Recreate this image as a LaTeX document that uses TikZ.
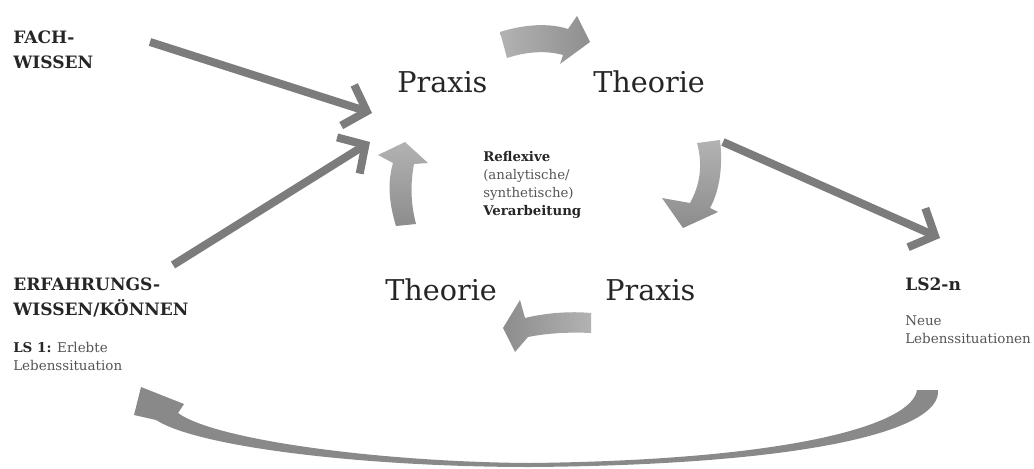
\documentclass[tikz,border=0pt]{standalone}
\usepackage{fontspec}
\setmainfont{DejaVu Serif}
\usetikzlibrary{arrows.meta}
\definecolor{arrgray}{HTML}{7C7C7C}
\definecolor{txtgray}{HTML}{555555}
\begin{document}
\begin{tikzpicture}[x=0.75pt,y=-0.75pt,
  bigtxt/.style={anchor=base west,inner sep=0pt,font=\fontsize{21.5pt}{24pt}\selectfont,text=black!85},
  labtxt/.style={anchor=base west,inner sep=0pt,font=\fontsize{12.8pt}{15pt}\selectfont\bfseries,text=black!85},
  smalltxt/.style={anchor=base west,inner sep=0pt,font=\fontsize{10.1pt}{12pt}\selectfont,text=txtgray},
  midtxt/.style={anchor=base west,inner sep=0pt,font=\fontsize{10pt}{12pt}\selectfont,text=txtgray},
  garrow/.style={draw=arrgray,line width=6pt,-{Straight Barb[length=15pt,width=32pt]}}
]
\useasboundingbox (0,0) rectangle (1034,468);

% texts
\node[labtxt] (fach1) at (13,43) {FACH-};
\node[labtxt] (fach2) at (13,68) {WISSEN};
\node[labtxt] (erf1) at (13,290) {ERFAHRUNGS-};
\node[labtxt] (erf2) at (13,315) {WISSEN/KÖNNEN};
\node[smalltxt] (ls1a) at (13,352) {\textbf{\color{black!85}LS 1:} Erlebte};
\node[smalltxt] (ls1b) at (13,370) {Lebenssituation};
\node[labtxt] (ls2) at (905,290) {LS2-n};
\node[smalltxt] (neu1) at (905,325) {Neue};
\node[smalltxt] (neu2) at (905,343) {Lebenssituationen};

\node[bigtxt] (praxTop) at (397,92) {Praxis};
\node[bigtxt] (theoTop) at (593,92) {Theorie};
\node[bigtxt] (theoBot) at (385,300) {Theorie};
\node[bigtxt] (praxBot) at (605,300) {Praxis};

\node[midtxt] (m1) at (483,161) {\textbf{\color{black!85}Reflexive}};
\node[midtxt] (m2) at (483,179) {(analytische/};
\node[midtxt] (m3) at (483,197) {synthetische)};
\node[midtxt] (m4) at (483,215) {\textbf{\color{black!85}Verarbeitung}};

% straight arrows
\coordinate (fs) at (150,42);
\coordinate (fe) at (372,113);
\coordinate (es) at (173,265);
\coordinate (ee) at (370,142);
\coordinate (ls) at (723,142);
\coordinate (le) at (940,238);
\draw[garrow] (fs) -- (fe);
\draw[garrow] (es) -- (ee);
\draw[garrow] (ls) -- (le);

% cycle block arrows
\shade[left color=gray!60,right color=gray!88]
  (500,32) .. controls (525,24) and (550,23) .. (568,29) -- (577,16) -- (590,42)
  -- (560,64) -- (563,55) .. controls (545,50) and (525,52) .. (507,58) -- cycle;
\shade[top color=gray!60,bottom color=gray!90]
  (697,143) .. controls (703,165) and (700,185) .. (690,203) -- (662,198) -- (683,228)
  -- (718,212) -- (710,208) .. controls (720,190) and (723,165) .. (720,140) -- cycle;
\shade[right color=gray!60,left color=gray!90]
  (591,313) .. controls (570,311) and (545,313) .. (525,318) -- (520,300) -- (503,328)
  -- (515,352) -- (528,337) .. controls (548,333) and (570,332) .. (591,333) -- cycle;
\shade[bottom color=gray!90,top color=gray!60]
  (396,226) .. controls (388,200) and (388,180) .. (393,163) -- (378,155) -- (405,142)
  -- (428,163) -- (414,164) .. controls (410,185) and (411,205) .. (416,224) -- cycle;

% bottom swoosh
\fill[arrgray!90]
  (938,390) -- (917,390) .. controls (912,425) and (790,460) .. (530,463)
  .. controls (380,462) and (215,440) .. (178,413) -- (184,404) -- (141,387) -- (134,415) -- (156,420)
  .. controls (200,448) and (370,467) .. (530,467) .. controls (800,465) and (942,432) .. (938,390) -- cycle;
\end{tikzpicture}
\end{document}
